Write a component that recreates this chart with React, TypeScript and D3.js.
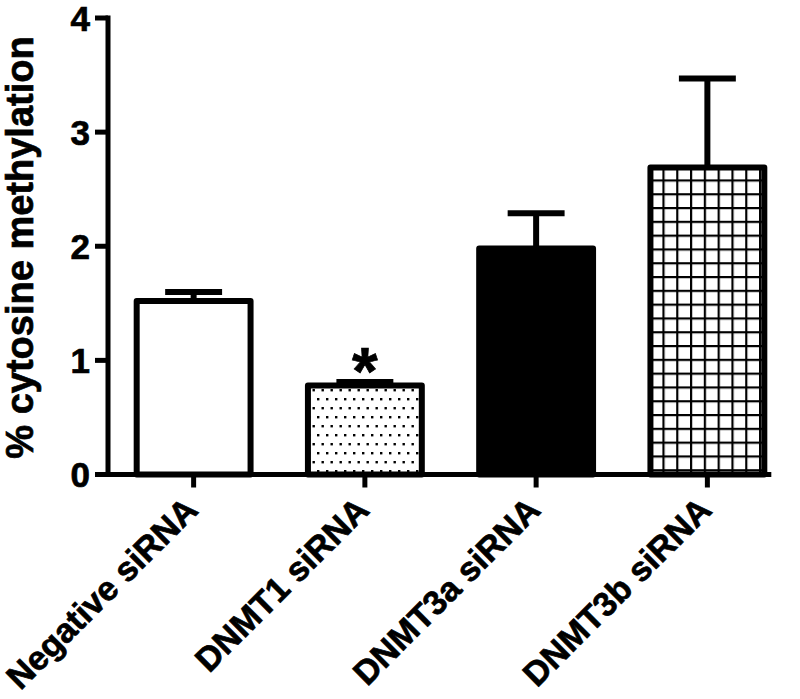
import React from "react";
import * as d3 from "d3";

const categories = ["Negative siRNA", "DNMT1 siRNA", "DNMT3a siRNA", "DNMT3b siRNA"];
const means = [1.52, 0.78, 1.98, 2.69];
const sems = [0.08, 0.03, 0.31, 0.78];
const significance = ["", "*", "", ""];
const yTicks = [0, 1, 2, 3, 4];
const yTitle = "% cytosine methylation";

const W = 800;
const H = 699;
const FONT = "'Liberation Sans', Arial, Helvetica, sans-serif";

export default function App() {
  const x = d3
    .scaleBand<string>()
    .domain(categories)
    .range([108, 793])
    .paddingInner(0.335)
    .paddingOuter(0.335 / 2);
  const y = d3.scaleLinear().domain([0, 4]).range([474.5, 18]);
  const bw = x.bandwidth();
  const fills = ["#ffffff", "url(#dots)", "#000000", "url(#grid)"];
  const lastX = (x(categories[categories.length - 1]) as number) + bw + 7;
  const textStroke = { stroke: "#000", strokeWidth: 0.7 };

  return (
    <svg
      width={W}
      height={H}
      viewBox={`0 0 ${W} ${H}`}
      style={{ position: "absolute", left: 0, top: 0, background: "#fff" }}
      fontFamily={FONT}
    >
      <defs>
        <pattern id="dots" patternUnits="userSpaceOnUse" width={9} height={18} x={2} y={2}>
          <rect width={9} height={18} fill="#fff" />
          <rect x={0} y={0} width={2.4} height={2.4} fill="#000" />
          <rect x={4.5} y={9} width={2.4} height={2.4} fill="#000" />
        </pattern>
        <pattern id="grid" patternUnits="userSpaceOnUse" width={13.8} height={13.8} x={0} y={0}>
          <rect width={13.8} height={13.8} fill="#fff" />
          <rect x={0} y={0} width={2.2} height={13.8} fill="#000" />
          <rect x={0} y={0} width={13.8} height={2.2} fill="#000" />
        </pattern>
      </defs>

      {/* error bars */}
      {categories.map((c, i) => {
        const cx = (x(c) as number) + bw / 2;
        const top = y(means[i] + sems[i]);
        return (
          <g key={"e" + c} stroke="#000" strokeWidth={6}>
            <line x1={cx} x2={cx} y1={y(means[i])} y2={top} />
            <line x1={cx - bw / 4} x2={cx + bw / 4} y1={top} y2={top} />
          </g>
        );
      })}

      {/* bars */}
      {categories.map((c, i) => (
        <rect
          key={"b" + c}
          x={x(c)}
          y={y(means[i])}
          width={bw}
          height={y(0) - y(means[i])}
          fill={fills[i]}
          stroke="#000"
          strokeWidth={6}
          strokeLinejoin="round"
        />
      ))}

      {/* significance */}
      {categories.map((c, i) =>
        significance[i] ? (
          <text
            key={"s" + c}
            x={(x(c) as number) + bw / 2}
            y={y(means[i] + sems[i]) + 12}
            textAnchor="middle"
            fontSize={66}
            fontWeight="bold"
            {...textStroke}
          >
            {significance[i]}
          </text>
        ) : null
      )}

      {/* y axis */}
      <line x1={108} x2={108} y1={y(0) + 2.5} y2={y(4) - 2.5} stroke="#000" strokeWidth={5} />
      {yTicks.map((t) => (
        <g key={"yt" + t}>
          <line x1={95} x2={108} y1={y(t)} y2={y(t)} stroke="#000" strokeWidth={5} />
          <text x={90} y={y(t)} dy="0.36em" textAnchor="end" fontSize={35} fontWeight="bold" {...textStroke}>
            {t}
          </text>
        </g>
      ))}
      <text
        transform={`translate(33, 247.5) rotate(-90)`}
        textAnchor="middle"
        fontSize={38}
        fontWeight="bold"
        {...textStroke}
      >
        {yTitle}
      </text>

      {/* x axis */}
      <line x1={105.5} x2={lastX} y1={y(0)} y2={y(0)} stroke="#000" strokeWidth={5} />
      {categories.map((c) => {
        const cx = (x(c) as number) + bw / 2;
        return (
          <g key={"xt" + c}>
            <line x1={cx} x2={cx} y1={y(0)} y2={y(0) + 13} stroke="#000" strokeWidth={5} />
            <text
              transform={`translate(${cx + 6}, 512) rotate(-45)`}
              textAnchor="end"
              fontSize={34}
              fontWeight="bold"
              {...textStroke}
            >
              {c}
            </text>
          </g>
        );
      })}
    </svg>
  );
}
